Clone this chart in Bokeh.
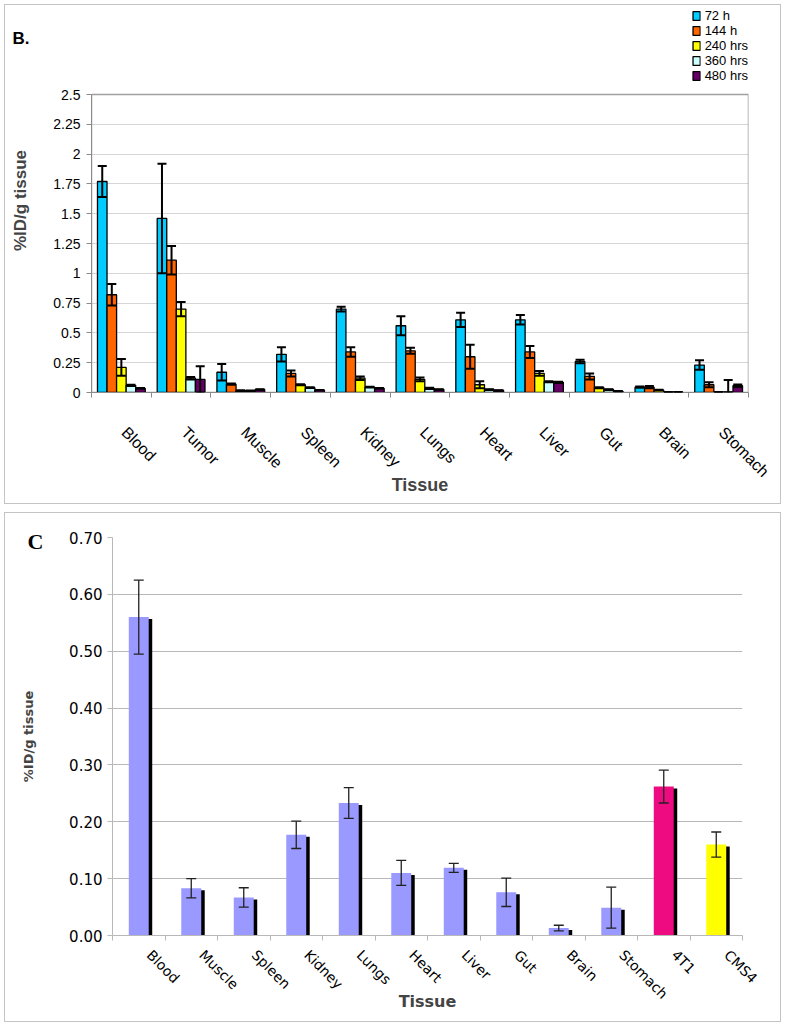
import math
from bokeh.plotting import figure
from bokeh.models import (ColumnDataSource, FixedTicker, Whisker, TeeHead, Legend,
                          LegendItem, Range1d, Title)
from bokeh.embed import file_html
from bokeh.resources import INLINE

# ---------------- Panel B data ----------------
tissues_b = ["Blood", "Tumor", "Muscle", "Spleen", "Kidney", "Lungs", "Heart",
             "Liver", "Gut", "Brain", "Stomach"]
series_b = ["72 h", "144 h", "240 hrs", "360 hrs", "480 hrs"]
h72 = [1.77, 1.46, 0.17, 0.32, 0.70, 0.56, 0.61, 0.61, 0.26, 0.045, 0.23]
h72_err = [0.13, 0.46, 0.07, 0.06, 0.02, 0.08, 0.06, 0.04, 0.015, 0.005, 0.04]
h144 = [0.82, 1.11, 0.07, 0.16, 0.34, 0.35, 0.30, 0.34, 0.135, 0.045, 0.065]
h144_err = [0.09, 0.12, 0.005, 0.025, 0.04, 0.025, 0.10, 0.05, 0.025, 0.01, 0.02]
h240 = [0.21, 0.70, 0.015, 0.065, 0.12, 0.11, 0.065, 0.16, 0.04, 0.02, 0.003]
h240_err = [0.07, 0.06, 0.003, 0.005, 0.015, 0.015, 0.03, 0.02, 0.005, 0.003, 0.002]
h360 = [0.06, 0.12, 0.015, 0.04, 0.045, 0.035, 0.025, 0.09, 0.025, 0.003, 0.005]
h360_err = [0.005, 0.01, 0.002, 0.003, 0.003, 0.005, 0.003, 0.005, 0.003, 0.001, 0.10]
h480 = [0.035, 0.11, 0.025, 0.02, 0.035, 0.025, 0.017, 0.085, 0.01, 0.003, 0.057]
h480_err = [0.003, 0.11, 0.003, 0.002, 0.003, 0.003, 0.002, 0.005, 0.002, 0.001, 0.01]
yticks_b = [0, 0.25, 0.5, 0.75, 1, 1.25, 1.5, 1.75, 2, 2.25, 2.5]
ylabels_b = ["0", "0.25", "0.5", "0.75", "1", "1.25", "1.5", "1.75", "2", "2.25", "2.5"]
panel_b = "B."

# ---------------- Panel C data ----------------
tissues_c = ["Blood", "Muscle", "Spleen", "Kidney", "Lungs", "Heart", "Liver",
             "Gut", "Brain", "Stomach", "4T1", "CMS4"]
vals_c = [0.560, 0.083, 0.067, 0.177, 0.233, 0.110, 0.119, 0.076, 0.013, 0.049, 0.262, 0.160]
err_c = [0.065, 0.017, 0.017, 0.024, 0.027, 0.022, 0.008, 0.025, 0.005, 0.036, 0.029, 0.022]
yticks_c = [0, 0.1, 0.2, 0.3, 0.4, 0.5, 0.6, 0.7]
ylabels_c = ["0.00", "0.10", "0.20", "0.30", "0.40", "0.50", "0.60", "0.70"]
panel_c = "C"

# ---------------- styles ----------------
colors_b = ["#00CCFF", "#FF6600", "#FFFF00", "#CCFFFF", "#660066"]
colors_c = ["#9999FF"] * 10 + ["#EE0A80", "#FFFF00"]
FB = "Liberation Sans"
FC = "DejaVu Sans"
W = 785
PANEL_CSS = {"outline": "1px solid #c4c4c4", "outline-offset": "-5px", "background": "white"}

# ================= Panel B =================
# the plot frame reaches up to the legend; the value axis is bounded to 0..2.5
nB = len(tissues_b)
ymax_b = yticks_b[-1]
B_TOP, B_AXIS_TOP, B_AXIS_BOTTOM, B_H = 8, 94, 392, 508
y_top_b = ymax_b * (B_AXIS_BOTTOM - B_TOP) / (B_AXIS_BOTTOM - B_AXIS_TOP)
pB = figure(width=W, height=B_H, x_range=Range1d(0, nB), y_range=Range1d(0, y_top_b),
            output_backend="svg", toolbar_location=None,
            min_border_left=91, min_border_right=37, min_border_top=B_TOP,
            min_border_bottom=B_H - B_AXIS_BOTTOM)
pB.styles = PANEL_CSS
pB.border_fill_color = None
pB.background_fill_color = "white"
pB.outline_line_color = None
pB.xgrid.visible = False
pB.ygrid.ticker = FixedTicker(ticks=yticks_b)
pB.ygrid.grid_line_color = "#d6d6d6"
pB.title = Title(text=panel_b, align="left", offset=-79, standoff=-78,
                 text_font=FB, text_font_size="17px", text_font_style="bold",
                 text_color="black")

# plot-area border (top and right edges)
pB.quad(left=[0], right=[nB], bottom=[0], top=[ymax_b], fill_color=None,
        line_color="#a0a0a0", line_width=1.5)

bar_w = 0.16
items = []
for k, (name, vals, errs) in enumerate(zip(series_b, [h72, h144, h240, h360, h480],
                                           [h72_err, h144_err, h240_err, h360_err, h480_err])):
    xs = [i + 0.5 + (k - 2) * bar_w for i in range(nB)]
    src = ColumnDataSource(dict(x=xs, top=vals,
                                upper=[v + e for v, e in zip(vals, errs)],
                                lower=[max(v - e, 0) for v, e in zip(vals, errs)]))
    r = pB.vbar(x="x", top="top", width=bar_w, source=src, fill_color=colors_b[k],
                line_color="black", line_width=1.3)
    items.append(LegendItem(label=name, renderers=[r]))
    wk = Whisker(source=src, base="x", upper="upper", lower="lower", line_color="black",
                 line_width=2, level="annotation",
                 upper_head=TeeHead(size=9, line_width=2, line_color="black"),
                 lower_head=TeeHead(size=9, line_width=2, line_color="black"))
    pB.add_layout(wk)

leg = Legend(items=items, location="top_right", orientation="vertical",
             label_text_font=FB, label_text_font_size="13px", label_text_color="black",
             glyph_width=9, glyph_height=11, label_height=14, spacing=0, padding=0,
             margin=0, label_standoff=4, border_line_alpha=0, background_fill_alpha=0)
pB.add_layout(leg)

ax = pB.xaxis[0]
ax.ticker = FixedTicker(ticks=[i + 0.55 for i in range(nB)], minor_ticks=list(range(nB + 1)))
ax.major_label_overrides = {i + 0.55: t for i, t in enumerate(tissues_b)}
ax.major_label_orientation = -math.pi / 4
ax.major_tick_line_color = None
ax.major_tick_out = 0
ax.major_tick_in = 0
ax.minor_tick_out = 5
ax.minor_tick_in = 0
ax.minor_tick_line_color = "#8a8a8a"
ax.axis_line_color = "#8a8a8a"
ax.major_label_standoff = 32
ax.major_label_text_font = FB
ax.major_label_text_font_size = "16px"
ax.major_label_text_color = "black"
ax.axis_label = "Tissue"
ax.axis_label_text_font = FB
ax.axis_label_text_font_size = "18px"
ax.axis_label_text_font_style = "bold"
ax.axis_label_standoff = -14

ay = pB.yaxis[0]
ay.bounds = (0, ymax_b)
ay.ticker = FixedTicker(ticks=yticks_b)
ay.major_label_overrides = dict(zip(yticks_b, ylabels_b))
ay.minor_tick_line_color = None
ay.major_tick_out = 5
ay.major_tick_in = 0
ay.major_tick_line_color = "#8a8a8a"
ay.axis_line_color = "#8a8a8a"
ay.major_label_standoff = 6
ay.major_label_text_font = FB
ay.major_label_text_font_size = "14px"
ay.major_label_text_color = "black"
ay.axis_label = "%ID/g tissue"
ay.axis_label_text_font = FB
ay.axis_label_text_font_size = "17px"
ay.axis_label_text_font_style = "bold"
ay.axis_label_standoff = 20

# ================= Panel C =================
nC = len(tissues_c)
pC = figure(width=W, height=518, x_range=Range1d(0, nC), y_range=Range1d(0, 0.7),
            output_backend="svg", toolbar_location=None,
            min_border_left=112, min_border_right=43, min_border_top=29, min_border_bottom=91)
pC.styles = PANEL_CSS
pC.border_fill_color = None
pC.background_fill_color = "white"
pC.outline_line_color = None
pC.xgrid.visible = False
pC.ygrid.ticker = FixedTicker(ticks=yticks_c)
pC.ygrid.grid_line_color = "#b8b8b8"
pC.title = Title(text=panel_c, align="left", offset=-85, standoff=-32,
                 text_font="Liberation Serif", text_font_size="22px", text_font_style="bold",
                 text_color="black")

bw_c = 0.38
sh_dx = 3.5 * nC / 630.0
sh_dy = 2.0 * 0.7 / 398.0
xc = [i + 0.5 for i in range(nC)]
srcC = ColumnDataSource(dict(x=xc, top=vals_c, color=colors_c,
                             xs=[x + sh_dx for x in xc],
                             stop=[v - sh_dy for v in vals_c],
                             upper=[v + e for v, e in zip(vals_c, err_c)],
                             lower=[max(v - e, 0) for v, e in zip(vals_c, err_c)]))
pC.vbar(x="xs", top="stop", width=bw_c, source=srcC, fill_color="black", line_color=None)
pC.vbar(x="x", top="top", width=bw_c, source=srcC, fill_color="color", line_color=None)
pC.add_layout(Whisker(source=srcC, base="x", upper="upper", lower="lower", line_color="#222222",
                      line_width=1.3, level="annotation",
                      upper_head=TeeHead(size=10, line_width=1.3, line_color="#222222"),
                      lower_head=TeeHead(size=10, line_width=1.3, line_color="#222222")))

cx = pC.xaxis[0]
cx.ticker = FixedTicker(ticks=[i + 0.7 for i in range(nC)], minor_ticks=list(range(nC + 1)))
cx.major_label_overrides = {i + 0.7: t for i, t in enumerate(tissues_c)}
cx.major_label_orientation = -math.pi / 4
cx.major_tick_line_color = None
cx.major_tick_out = 0
cx.major_tick_in = 0
cx.minor_tick_out = 5
cx.minor_tick_in = 0
cx.minor_tick_line_color = "#b8b8b8"
cx.axis_line_color = "#b8b8b8"
cx.major_label_standoff = 12
cx.major_label_text_font = FC
cx.major_label_text_font_size = "14px"
cx.major_label_text_color = "black"
cx.axis_label = "Tissue"
cx.axis_label_text_font = FC
cx.axis_label_text_font_size = "16px"
cx.axis_label_text_font_style = "bold"
cx.axis_label_standoff = -18

cy = pC.yaxis[0]
cy.ticker = FixedTicker(ticks=yticks_c)
cy.major_label_overrides = dict(zip(yticks_c, ylabels_c))
cy.minor_tick_line_color = None
cy.major_tick_out = 5
cy.major_tick_in = 0
cy.major_tick_line_color = "#b8b8b8"
cy.axis_line_color = "#b8b8b8"
cy.major_label_standoff = 5
cy.major_label_text_font = FC
cy.major_label_text_font_size = "15px"
cy.major_label_text_color = "black"
cy.axis_label = "%ID/g tissue"
cy.axis_label_text_font = FC
cy.axis_label_text_font_size = "13px"
cy.axis_label_text_font_style = "bold"
cy.axis_label_standoff = 30

open("out.html", "w").write(file_html([pB, pC], INLINE))
